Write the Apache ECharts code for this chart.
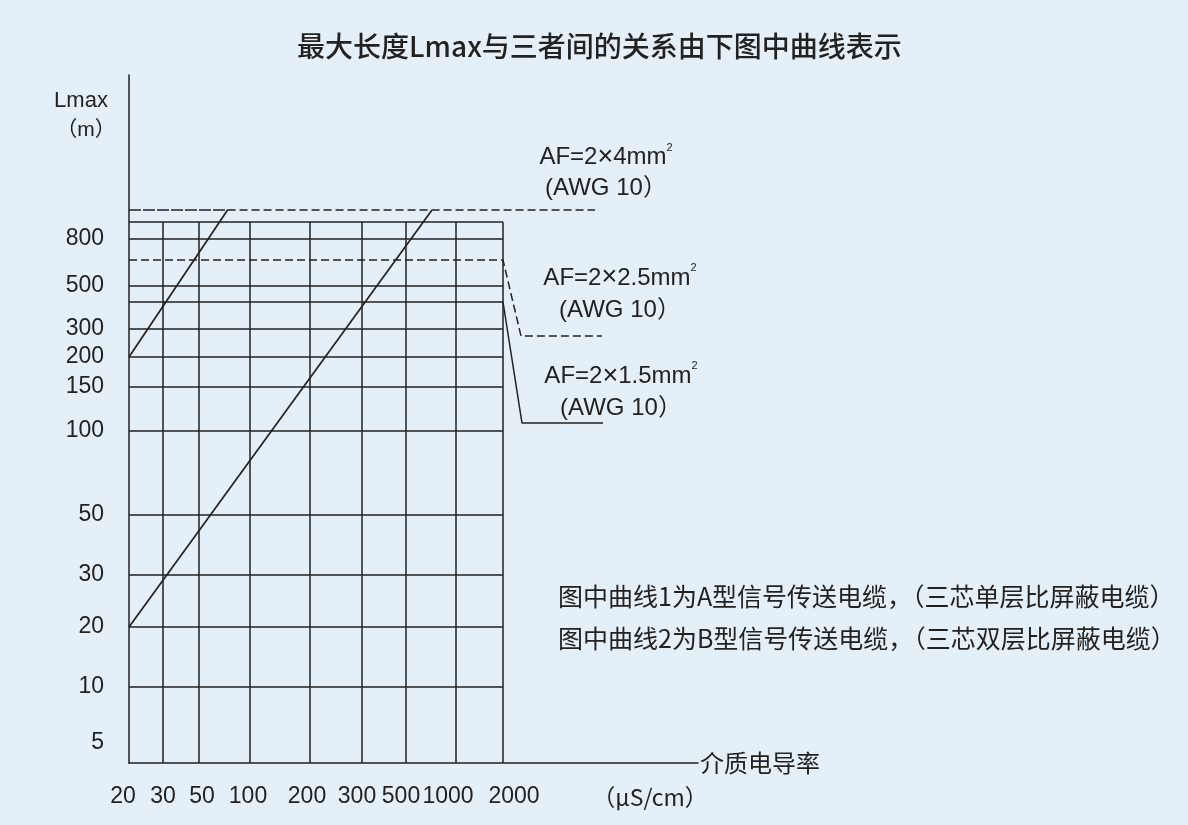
<!DOCTYPE html>
<html><head><meta charset="utf-8">
<script src="https://cdn.jsdelivr.net/npm/echarts@6/dist/echarts.min.js"></script>
<style>html,body{margin:0;padding:0;background:#e4eff7}#c{width:1188px;height:825px}</style>
</head><body><div id="c"></div>
<script>
// ---------- data ----------
const conductivityTicks = [20, 30, 50, 100, 200, 300, 500, 1000, 2000];          // µS/cm
const lengthTicks = [5, 10, 20, 30, 50, 100, 150, 200, 300, 500, 800];             // m
const gridLengths = [10, 20, 30, 50, 100, 150, 200, 300, 500, 800, 1000];          // solid grid levels, m
const curve1 = [[20, 200], [78, 1200]];     // 曲线1
const curve2 = [[20, 20], [760, 1200]];     // 曲线2
const limitLengths = [1200, 650, 400];      // Lmax limits for AF = 4 / 2.5 / 1.5 mm²
const limitSections = ['4', '2.5', '1.5'];
const limitDropTo = [null, 275, 109];       // leader of the callout bends down to this length

// ---------- the figure's hand-drawn, non-uniform scales ----------
const xScaleStops = [[20,0],[30,34],[50,70],[100,121],[200,181],[300,233],[500,277],[1000,327],[2000,374]];
const yScaleStops = [[5,20],[10,76],[20,136],[30,188],[50,248],[100,332],[150,376],[200,406],[300,434],
                     [400,461],[500,477],[650,503],[800,524],[1000,541],[1200,553]];
function interp(stops, v) {
  let i = 0;
  while (i < stops.length - 2 && v > stops[i + 1][0]) i++;
  const [v0, p0] = stops[i], [v1, p1] = stops[i + 1];
  return p0 + (v - v0) / (v1 - v0) * (p1 - p0);
}
const X = v => interp(xScaleStops, v);
const Y = v => interp(yScaleStops, v);
const X_MAX = 569, Y_MAX = 688;

// ---------- styling ----------
const INK = '#222';
const xLabelNudge = [-6, 0, 3, -2, -3, -5, -5, -8, 11];   // the printed tick labels sit slightly off their lines
const series = [];
function line(pts, o) {
  o = o || {};
  series.push({
    type: 'line', data: pts, symbol: 'none', silent: true, animation: false,
    lineStyle: { color: INK, width: o.w || 1.5, type: o.dash || 'solid' }, z: o.z || 2
  });
}
// vertical grid lines
conductivityTicks.slice(1).forEach(c => line([[X(c), 0], [X(c), Y(1000)]]));
// horizontal grid lines
gridLengths.forEach(L => line([[X(20), Y(L)], [X(2000), Y(L)]]));
// curves
line(curve1.map(p => [X(p[0]), Y(p[1])]), { w: 1.7, z: 3 });
line(curve2.map(p => [X(p[0]), Y(p[1])]), { w: 1.7, z: 3 });

// limit lines with callout leaders
const leaderRun = [92, 99, 100], leaderKink = [0, 18, 19];
const calloutPts = [];
// AF 4 mm²
line([[X(20), Y(limitLengths[0])], [X(curve1[1][0]), Y(limitLengths[0])]], { dash: [12, 2] });
line([[X(curve1[1][0]), Y(limitLengths[0])], [X(2000) + leaderRun[0], Y(limitLengths[0])]], { dash: [8, 4] });
calloutPts.push([X(2000) + leaderRun[0], Y(limitLengths[0])]);
// AF 2.5 mm² (dashed), AF 1.5 mm² (solid)
[1, 2].forEach(k => {
  const L = limitLengths[k], d = limitDropTo[k];
  const pts = [[X(20), Y(L)], [X(2000), Y(L)], [X(2000) + leaderKink[k], Y(d)], [X(2000) + leaderRun[k], Y(d)]];
  line(pts, { dash: k === 1 ? [8, 4] : 'solid' });
  calloutPts.push(pts[3]);
});
const calloutOffset = [[11, -6], [18, -10], [18, 1]];
const calloutLH = [31, 32, 32];
calloutPts.forEach((p, k) => {
  const lh = calloutLH[k];
  series.push({
    type: 'scatter', data: [p], symbol: 'circle', symbolSize: 0, silent: true, animation: false,
    itemStyle: { color: INK, opacity: 1 },
    label: {
      show: true, position: 'top', distance: 0, offset: calloutOffset[k], align: 'center',
      color: INK, textBorderWidth: 0, opacity: 1,
      formatter: '{t|AF=2}{x|×}{t|' + limitSections[k] + 'mm}{s|2}\n{t|(AWG 10）}',
      lineHeight: lh,
      rich: {
        t: { fontSize: 24, fontFamily: '"Liberation Sans", Arial, "Noto Sans CJK SC"', color: INK, lineHeight: lh },
        x: { fontSize: 27, fontFamily: '"Liberation Sans", Arial', color: INK, lineHeight: lh },
        s: { fontSize: 11, fontFamily: '"Liberation Sans", Arial', color: INK, lineHeight: 14, verticalAlign: 'top' }
      }
    }
  });
});

const idxOf = (arr, f, v) => arr.findIndex(t => Math.abs(f(t) - v) < 1e-6);
const xRich = {};
xLabelNudge.forEach((s, i) => {
  xRich['n' + i] = { fontSize: 23, fontFamily: '"Liberation Sans", Arial', color: INK,
                     padding: s >= 0 ? [0, 0, 0, 2 * s] : [0, -2 * s, 0, 0] };
});

const option = {
  backgroundColor: '#e4eff7',
  animation: false,
  title: {
    text: '最大长度Lmax与三者间的关系由下图中曲线表示',
    left: 297, top: 32, padding: 0,
    textStyle: { fontSize: 28, fontFamily: '"Noto Sans CJK SC"', fontWeight: 500, color: INK }
  },
  grid: { left: 129, right: 1188 - 129 - X_MAX, top: 75, bottom: 825 - 75 - Y_MAX, containLabel: false },
  xAxis: {
    type: 'value', min: 0, max: X_MAX,
    axisLine: { show: true, lineStyle: { color: INK, width: 1.5 } },
    axisTick: { show: false }, splitLine: { show: false },
    axisLabel: {
      customValues: conductivityTicks.map(X),
      hideOverlap: false,
      formatter: v => { const i = idxOf(conductivityTicks, X, v); return i < 0 ? '' : '{n' + i + '|' + conductivityTicks[i] + '}'; },
      rich: xRich,
      fontSize: 23, fontFamily: '"Liberation Sans", Arial', color: INK, margin: 22
    },
    name: '介质电导率', nameLocation: 'end', nameGap: 2,
    nameTextStyle: { fontSize: 24, fontFamily: '"Noto Sans CJK SC"', color: INK, verticalAlign: 'middle', align: 'left' }
  },
  yAxis: {
    type: 'value', min: 0, max: Y_MAX,
    axisLine: { show: true, lineStyle: { color: INK, width: 1.5 } },
    axisTick: { show: false }, splitLine: { show: false },
    axisLabel: {
      customValues: lengthTicks.map(Y),
      hideOverlap: false,
      formatter: v => { const i = idxOf(lengthTicks, Y, v); return i < 0 ? '' : String(lengthTicks[i]); },
      fontSize: 23, fontFamily: '"Liberation Sans", Arial', color: INK, margin: 25
    }
  },
  graphic: [
    { type: 'text', x: 81, y: 101, silent: true,
      style: { text: 'Lmax', font: '22px "Liberation Sans", Arial', fill: INK, align: 'center', verticalAlign: 'middle' } },
    { type: 'text', x: 86, y: 130, silent: true,
      style: { text: '（m）', font: '21px "Liberation Sans", "Noto Sans CJK SC"', fill: INK, align: 'center', verticalAlign: 'middle' } },
    { type: 'text', x: 650, y: 797, silent: true,
      style: { text: '（μS/cm）', font: '23px "Noto Sans CJK SC"', fill: INK, align: 'center', verticalAlign: 'middle' } },
    { type: 'text', x: 558, y: 596, silent: true,
      style: { text: '图中曲线1为A型信号传送电缆，（三芯单层比屏蔽电缆）', font: '25px "Noto Sans CJK SC"', fill: INK, align: 'left', verticalAlign: 'middle' } },
    { type: 'text', x: 558, y: 638, silent: true,
      style: { text: '图中曲线2为B型信号传送电缆，（三芯双层比屏蔽电缆）', font: '25px "Noto Sans CJK SC"', fill: INK, align: 'left', verticalAlign: 'middle' } }
  ],
  series: series
};
const chart = echarts.init(document.getElementById('c'), null, { renderer: 'canvas' });
chart.setOption(option);
</script>
</body></html>
